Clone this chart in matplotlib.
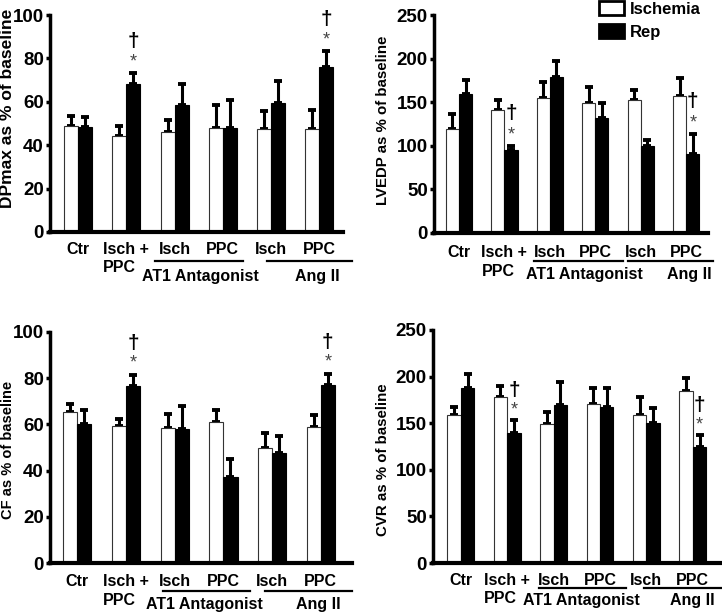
import numpy as np
import matplotlib.pyplot as plt
from matplotlib.patches import Patch
from matplotlib.transforms import offset_copy

plt.rcParams['font.family'] = ['Liberation Sans', 'DejaVu Sans']
plt.rcParams['font.weight'] = 'bold'

tick_labels = ['Ctr', 'Isch +\nPPC', 'Isch', 'PPC', 'Isch', 'PPC']

# DPmax
dp_isch = [48.9, 44.2, 45.9, 48.0, 47.4, 47.4]
dp_isch_sem = [4.6, 4.7, 5.6, 10.4, 8.3, 8.7]
dp_rep = [48.5, 68.3, 58.6, 48.0, 59.4, 76.1]
dp_rep_sem = [4.7, 4.9, 9.7, 13.0, 10.1, 7.5]

# LVEDP
lv_isch = [119, 141, 155, 149, 153, 157]
lv_isch_sem = [18, 11, 18, 19, 11, 21]
lv_rep = [159, 95, 179, 132, 100, 91]
lv_rep_sem = [16, 5, 18, 17, 7, 23]

# CF
cf_isch = [65.4, 59.2, 58.4, 61.0, 49.8, 59.0]
cf_isch_sem = [3.6, 3.1, 6.1, 5.1, 6.5, 5.2]
cf_rep = [60.3, 76.6, 57.9, 37.4, 47.8, 76.9]
cf_rep_sem = [5.8, 4.9, 10.1, 7.5, 7.3, 5.1]

# CVR
cvr_isch = [159, 178, 149, 171, 159, 185]
cvr_isch_sem = [8, 12, 13, 17, 19, 14]
cvr_rep = [188, 140, 170, 167, 150, 124]
cvr_rep_sem = [15, 13, 24, 21, 16, 13]

sig_groups = [1, 5]

W, H = 722, 614
fig = plt.figure(figsize=(W / 100, H / 100), dpi=100)


def px(l, t, r, b):
    return [l / W, 1 - b / H, (r - l) / W, (b - t) / H]


panels = [
    dict(rect=px(50, 15, 343, 232), isch=dp_isch, isem=dp_isch_sem, rep=dp_rep, rsem=dp_rep_sem,
         ymax=100, step=20, ylabel='DPmax as % of baseline', yl_size=12.5, yl_pos=(-0.119, 0.571),
         xlim=(-0.58, 5.49), pad=7,
         star=5, dag=14.5, at1=(1.59, 3.41), ang=(3.91, 5.67), at1_x=2.53, ang_x=4.95,
         line_y=29, row2=45),
    dict(rect=px(434, 15, 708, 233), isch=lv_isch, isem=lv_isch_sem, rep=lv_rep, rsem=lv_rep_sem,
         ymax=250, step=50, ylabel='LVEDP as % of baseline', yl_size=10.8, yl_pos=(-0.161, 0.518),
         xlim=(-0.55, 5.48), pad=9,
         star=12, dag=37, at1=(1.65, 3.61), ang=(3.72, 5.59), at1_x=2.75, ang_x=5.07,
         line_y=28, row2=42),
    dict(rect=px(50, 332, 352, 563), isch=cf_isch, isem=cf_isch_sem, rep=cf_rep, rsem=cf_rep_sem,
         ymax=100, step=20, ylabel='CF as % of baseline', yl_size=10.5, yl_pos=(-0.116, 0.489),
         xlim=(-0.56, 5.64), pad=8,
         star=5, dag=13.5, at1=(1.76, 3.54), ang=(3.85, 5.64), at1_x=2.6, ang_x=4.95,
         line_y=28, row2=41),
    dict(rect=px(433, 330, 722, 563), isch=cvr_isch, isem=cvr_isch_sem, rep=cvr_rep, rsem=cvr_rep_sem,
         ymax=250, step=50, ylabel='CVR as % of baseline', yl_size=10.8, yl_pos=(-0.149, 0.442),
         xlim=(-0.60, 5.63), pad=7,
         star=11, dag=32, at1=(1.68, 3.56), ang=(3.94, 5.62), at1_x=2.6, ang_x=5.0,
         line_y=25, row2=37),
]

w = 0.29
x = np.arange(6)

for p in panels:
    ax = fig.add_axes(p['rect'])
    ax.bar(x - w / 2, p['isch'], w, color='white', edgecolor='#333333', linewidth=0.8, zorder=2)
    ax.bar(x + w / 2, p['rep'], w, color='black', edgecolor='black', linewidth=0.8, zorder=2)
    zeros = [0] * 6
    ax.errorbar(x - w / 2, p['isch'], yerr=[zeros, p['isem']], fmt='none', ecolor='black',
                elinewidth=2.2, capsize=3, capthick=2.8, zorder=1)
    ax.errorbar(x + w / 2, p['rep'], yerr=[zeros, p['rsem']], fmt='none', ecolor='black',
                elinewidth=2.2, capsize=3, capthick=2.8, zorder=1)

    for g in sig_groups:
        top = p['rep'][g] + p['rsem'][g]
        ax.text(g + w / 2, top + p['star'], '*', ha='center', va='center', fontsize=13,
                fontweight='normal', color='#444444', clip_on=False)
        ax.text(g + w / 2, top + p['dag'], '\u2020', ha='center', va='center', fontsize=15,
                fontweight='bold', color='black', clip_on=False)

    ax.set_xlim(*p['xlim'])
    ax.set_ylim(0, p['ymax'])
    ax.set_yticks(np.arange(0, p['ymax'] + 1, p['step']))
    ax.set_xticks(x)
    ax.set_xticklabels(tick_labels, fontsize=11.5, fontweight='bold',
                       multialignment='left', linespacing=1.3)
    ax.tick_params(axis='x', length=0, pad=p['pad'])
    ax.tick_params(axis='y', direction='out', length=3, width=2.5, labelsize=13.5, pad=1.5)
    for lab in ax.get_yticklabels():
        lab.set_fontweight('bold')
    ax.set_ylabel(p['ylabel'], fontsize=p['yl_size'], fontweight='bold')
    ax.yaxis.set_label_coords(*p['yl_pos'])

    for s in ['top', 'right']:
        ax.spines[s].set_visible(False)
    ax.spines['left'].set_linewidth(2.5)
    ax.spines['bottom'].set_linewidth(3)

    tr_line = offset_copy(ax.get_xaxis_transform(), fig=fig, y=-p['line_y'] * 0.72, units='points')
    tr_lab = offset_copy(ax.get_xaxis_transform(), fig=fig, y=-p['row2'] * 0.72, units='points')
    ax.plot(p['at1'], [0, 0], color='black', lw=1.6, transform=tr_line, clip_on=False)
    ax.plot(p['ang'], [0, 0], color='black', lw=1.6, transform=tr_line, clip_on=False)
    ax.text(p['at1_x'], 0, 'AT1 Antagonist', transform=tr_lab, ha='center', va='center',
            fontsize=11.5, fontweight='bold')
    ax.text(p['ang_x'], 0, 'Ang II', transform=tr_lab, ha='center', va='center',
            fontsize=11.5, fontweight='bold')

handles = [Patch(facecolor='white', edgecolor='black', linewidth=2),
           Patch(facecolor='black', edgecolor='black', linewidth=2)]
fig.legend(handles, ['Ischemia', 'Rep'], loc='upper left', bbox_to_anchor=(599 / W, 1 - 1 / H),
           frameon=False, borderaxespad=0, borderpad=0, handlelength=1.5, handleheight=0.9,
           handletextpad=0.35, labelspacing=0.45, prop={'weight': 'bold', 'size': 12})

fig.savefig('out.png', dpi=100)
